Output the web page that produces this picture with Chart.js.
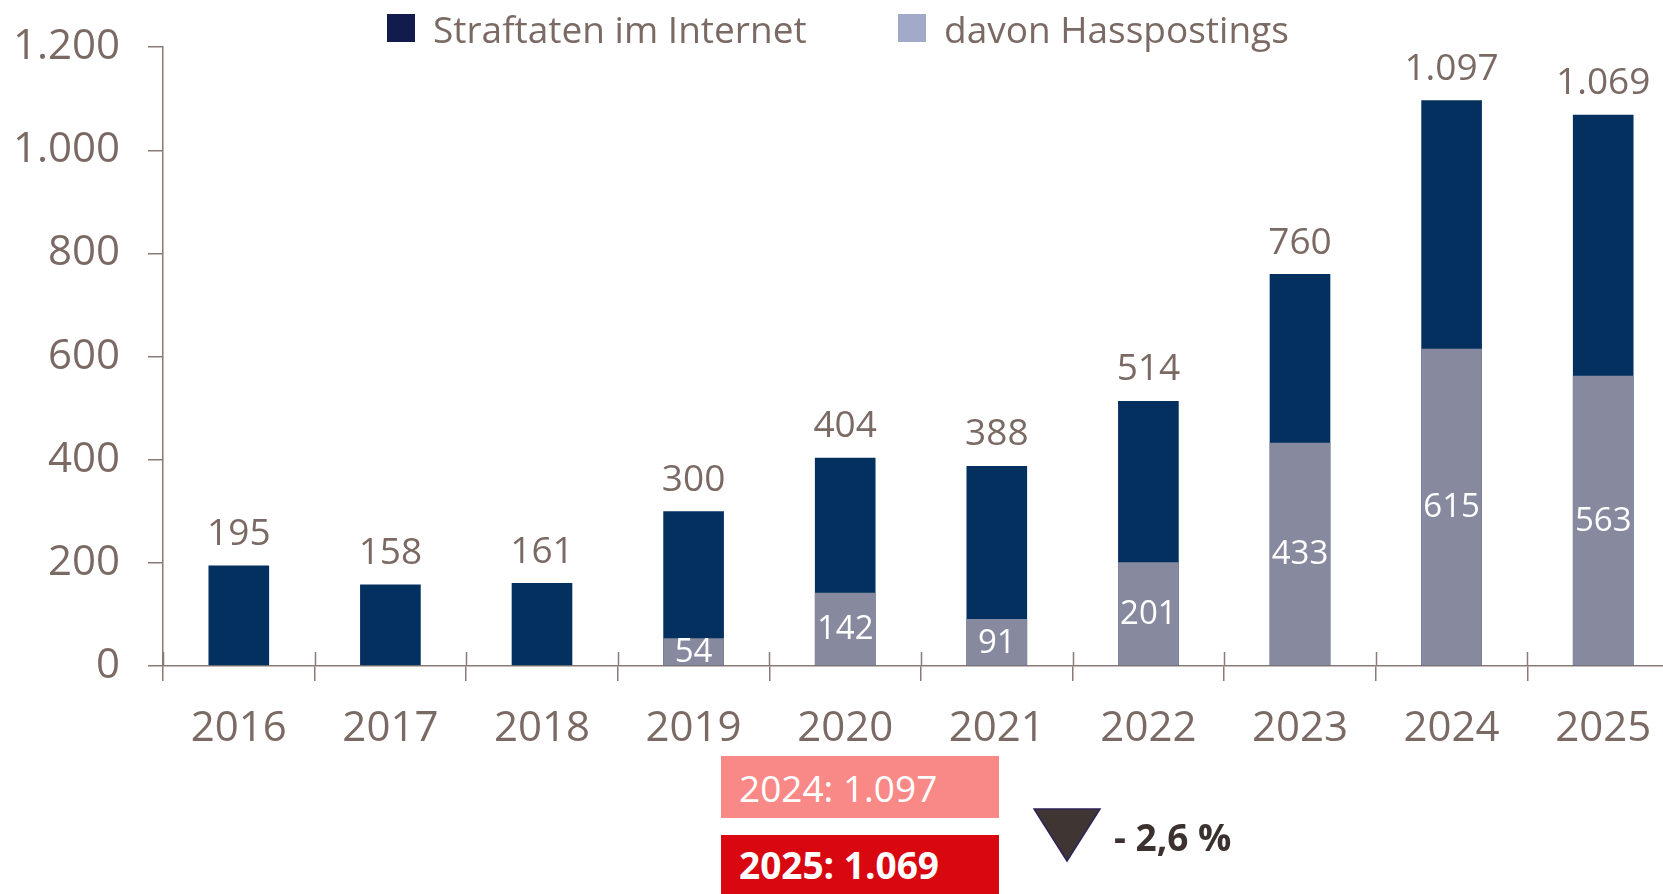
<!DOCTYPE html>
<html>
<head>
<meta charset="utf-8">
<script src="https://cdn.jsdelivr.net/npm/chart.js@4"></script>
<style>
  html, body { margin: 0; padding: 0; background: #fff; overflow: hidden; }
  #wrap { position: relative; width: 1663px; height: 894px; overflow: hidden; font-family: "Open Sans", sans-serif; }
  #chart { position: absolute; left: 0; top: -6px; }
  .leg { position: absolute; top: 3px; height: 50px; display: flex; align-items: center; color: #7b6a64; font-size: 37px; }
  .leg span.box { display: inline-block; width: 28px; height: 28px; margin-right: 18px; }
  .cmp { position: absolute; left: 721px; width: 278px; color: #fff; font-size: 37px; display: flex; align-items: center; box-sizing: border-box; padding-left: 18px; }
  #delta { position: absolute; left: 1114px; top: 810px; height: 52px; display: flex; align-items: center; font-size: 37px; font-weight: 700; color: #3b3230; }
</style>
</head>
<body>
<div id="wrap">
  <canvas id="chart" width="1700" height="900"></canvas>
  <div class="leg" style="left:387px"><span class="box" style="background:#111b4c"></span>Straftaten im Internet</div>
  <div class="leg" style="left:898px"><span class="box" style="background:#a3a9c9"></span>davon Hasspostings</div>
  <div class="cmp" style="top:756px;height:62px;background:#f98987">2024: 1.097</div>
  <div class="cmp" style="top:835px;height:59px;background:#d9070f;font-weight:700">2025: 1.069</div>
  <svg style="position:absolute;left:1033px;top:808px" width="70" height="56">
    <polygon points="1,1 67,1 34,53" fill="#3f3634" stroke="#2f2358" stroke-width="1.5"/>
  </svg>
  <div id="delta">- 2,6 %</div>
</div>
<script>
// Straftaten im Internet / davon Hasspostings
const years = ['2016', '2017', '2018', '2019', '2020', '2021', '2022', '2023', '2024', '2025'];
const offences = [195, 158, 161, 300, 404, 388, 514, 760, 1097, 1069];
const hatePosts = [null, null, null, 54, 142, 91, 201, 433, 615, 563];
const yTicks = [0, 200, 400, 600, 800, 1000, 1200];

const axisColor = '#8b7b77';
const textColor = '#7b6a64';

function fmt(v) {
  return v.toLocaleString('de-DE');
}

const labelPlugin = {
  id: 'barLabels',
  afterDatasetsDraw(chart) {
    const { ctx } = chart;
    ctx.save();
    ctx.textAlign = 'center';
    ctx.textBaseline = 'middle';

    // totals above the bars
    ctx.font = '37px "Open Sans"';
    ctx.fillStyle = textColor;
    chart.getDatasetMeta(0).data.forEach((bar, i) => {
      ctx.fillText(fmt(offences[i]), bar.x, bar.y - 31);
    });

    // hate postings centred in their part
    ctx.font = '33px "Open Sans"';
    ctx.fillStyle = '#ffffff';
    chart.getDatasetMeta(1).data.forEach((bar, i) => {
      if (hatePosts[i] == null) return;
      ctx.fillText(fmt(hatePosts[i]), bar.x, (bar.y + bar.base) / 2 + 1);
    });

    // category ticks reaching above the axis line
    const xs = chart.scales.x;
    const step = xs.width / years.length;
    ctx.strokeStyle = axisColor;
    ctx.lineWidth = 1.5;
    for (let i = 0; i <= years.length; i += 1) {
      const x = Math.round(xs.left + i * step) + 0.5;
      ctx.beginPath();
      ctx.moveTo(x, chart.chartArea.bottom - 14);
      ctx.lineTo(x, chart.chartArea.bottom);
      ctx.stroke();
    }
    ctx.restore();
  },
};

Chart.defaults.font.family = '"Open Sans", sans-serif';

new Chart(document.getElementById('chart'), {
  type: 'bar',
  data: {
    labels: years,
    datasets: [
      {
        label: 'Straftaten im Internet',
        data: offences,
        backgroundColor: '#03305f',
        order: 1,
      },
      {
        label: 'davon Hasspostings',
        data: hatePosts,
        backgroundColor: '#878a9f',
        order: 0,
      },
    ],
  },
  options: {
    responsive: false,
    devicePixelRatio: 1,
    animation: false,
    layout: { padding: { top: 39, right: 21, left: 0, bottom: 0 } },
    datasets: {
      bar: { grouped: false, categoryPercentage: 1, barPercentage: 0.4 },
    },
    plugins: {
      legend: { display: false },
      tooltip: { enabled: false },
    },
    scales: {
      x: {
        afterFit(scale) { scale.height = 228; },
        grid: {
          offset: true,
          drawOnChartArea: false,
          tickLength: 15,
          color: axisColor,
          lineWidth: 1.5,
        },
        border: { color: axisColor, width: 1.5 },
        ticks: {
          color: textColor,
          font: { size: 42 },
          padding: 23,
        },
      },
      y: {
        min: 0,
        max: 1200,
        afterFit(scale) { scale.width = 163; },
        afterBuildTicks(scale) { scale.ticks = yTicks.map((v) => ({ value: v })); },
        grid: {
          drawOnChartArea: false,
          tickLength: 15,
          color: axisColor,
          lineWidth: 1.5,
        },
        border: { color: axisColor, width: 1.5 },
        ticks: {
          color: textColor,
          font: { size: 42 },
          padding: 28,
          callback: (v) => fmt(v),
        },
      },
    },
  },
  plugins: [labelPlugin],
});
</script>
</body>
</html>
